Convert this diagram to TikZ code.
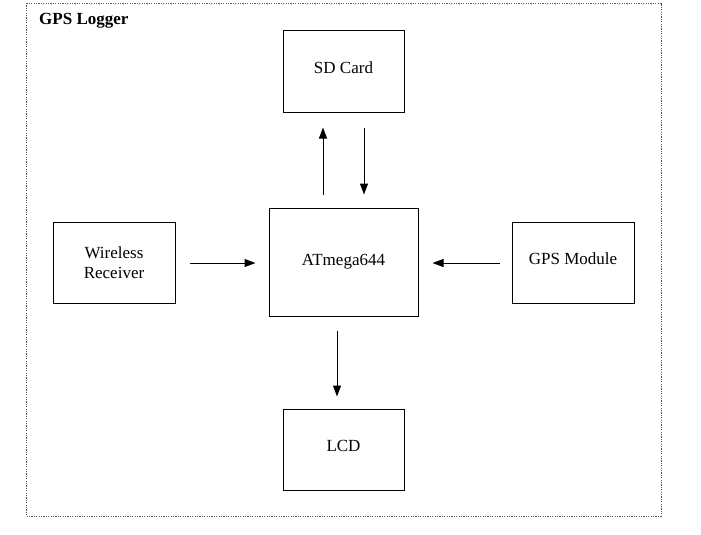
\documentclass[tikz,border=0pt]{standalone}
\usepackage{fontspec}
\setmainfont{Liberation Serif}
\usetikzlibrary{arrows.meta,calc}
\begin{document}
\begin{tikzpicture}[x=1pt,y=-1pt,
  blk/.style={draw,line width=1pt,minimum width=#1,inner sep=0pt,font=\fontsize{17}{20}\selectfont,align=center},
  raised/.style={text depth=7pt},
  arr/.style={line width=1pt,-{Triangle[length=11pt,width=8pt]}}]
\useasboundingbox (0,0) rectangle (701,535);
\draw[line width=0.9pt,gray!70!black,dash pattern=on 1.2pt off 1.2pt] (26,3) rectangle (661,516);
\node[anchor=north west,font=\fontsize{17}{20}\selectfont\bfseries,inner sep=0pt] (title) at (39,13) {GPS Logger};
\node[blk=121pt,minimum height=81pt,raised] (sd) at (343.5,71.5) {SD Card};
\node[blk=149pt,minimum height=108pt] (atm) at (343.5,262) {ATmega644};
\node[blk=122pt,minimum height=81pt] (wr) at (114,262.5) {Wireless\\Receiver};
\node[blk=122pt,minimum height=81pt,raised] (gps) at (573,262.5) {GPS Module};
\node[blk=121pt,minimum height=81pt,raised] (lcd) at (343.5,449.5) {LCD};
\coordinate (xu) at (323,0);
\coordinate (xd) at (364,0);
\coordinate (xl) at (337,0);
\coordinate (yh) at (0,263);
\draw[arr,shorten <=13pt,shorten >=15pt] (atm.north -| xu) -- (sd.south -| xu);
\draw[arr,shorten <=15pt,shorten >=13pt] (sd.south -| xd) -- (atm.north -| xd);
\draw[arr,shorten <=14pt,shorten >=13pt] (wr.east |- yh) -- (atm.west |- yh);
\draw[arr,shorten <=12pt,shorten >=14pt] (gps.west |- yh) -- (atm.east |- yh);
\draw[arr,shorten <=14pt,shorten >=12pt] (atm.south -| xl) -- (lcd.north -| xl);
\end{tikzpicture}
\end{document}
